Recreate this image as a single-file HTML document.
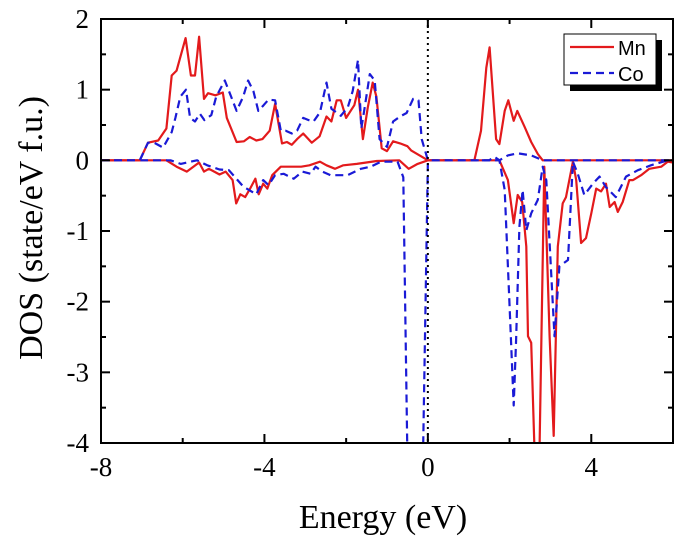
<!DOCTYPE html>
<html><head><meta charset="utf-8"><style>
html,body{margin:0;padding:0;background:#fff;}
svg{display:block;font-family:"Liberation Serif",serif;}
</style></head><body>
<svg id="chart" width="688" height="538" viewBox="0 0 688 538" xmlns="http://www.w3.org/2000/svg">
<defs><clipPath id="clip"><rect x="101" y="19" width="572" height="424"/></clipPath></defs>
<g id="series" clip-path="url(#clip)"></g>
<g id="axes"></g>
<text x="383" y="528" font-size="34" text-anchor="middle">Energy (eV)</text>
<text transform="translate(42,228) rotate(-90)" font-size="34" text-anchor="middle">DOS (state/eV f.u.)</text>
<g>
<rect x="570" y="40" width="92" height="51" fill="#000"/>
<rect x="564" y="34" width="92" height="51" fill="#fff" stroke="#000" stroke-width="1"/>
<line x1="570" y1="47" x2="614" y2="47" stroke="#e31a1c" stroke-width="2.2"/>
<text x="618" y="55" font-family="Liberation Sans,sans-serif" font-size="20">Mn</text>
<line x1="570" y1="73" x2="614" y2="73" stroke="#1a1ad6" stroke-width="2.2" stroke-dasharray="8,5"/>
<text x="618" y="81" font-family="Liberation Sans,sans-serif" font-size="20">Co</text>
</g>
</svg>
<script>
const xTicks=[-8,-4,0,4];
const yTicks=[2,1,0,-1,-2,-3,-4];
const mnUpE=[-8,-7.05,-6.85,-6.6,-6.4,-6.27,-6.15,-5.93,-5.8,-5.7,-5.6,-5.48,-5.38,-5.2,-5.02,-4.92,-4.68,-4.5,-4.36,-4.2,-4.05,-3.87,-3.74,-3.57,-3.45,-3.33,-3.2,-3.05,-2.84,-2.65,-2.48,-2.36,-2.23,-2.13,-2.0,-1.8,-1.71,-1.59,-1.47,-1.35,-1.26,-1.13,-1.0,-0.85,-0.68,-0.5,-0.41,0,1.14,1.3,1.43,1.51,1.67,1.75,1.88,1.97,2.1,2.19,2.37,2.53,2.69,2.81,6];
const mnUpV=[0,0,0.25,0.28,0.45,1.2,1.27,1.73,1.2,1.2,1.75,0.87,0.95,0.92,0.96,0.6,0.26,0.27,0.33,0.28,0.3,0.42,0.8,0.24,0.26,0.22,0.3,0.38,0.25,0.34,0.62,0.55,0.85,0.85,0.6,0.78,1.0,0.3,0.75,1.1,0.9,0.17,0.13,0.27,0.24,0.2,0.14,0,0,0.42,1.31,1.6,0.3,0.23,0.7,0.85,0.56,0.7,0.47,0.26,0.09,0,0];
const coUpE=[-8,-7.05,-6.85,-6.7,-6.48,-6.27,-6.18,-6.06,-5.92,-5.82,-5.7,-5.58,-5.47,-5.3,-5.18,-4.97,-4.8,-4.68,-4.52,-4.4,-4.27,-4.15,-4.02,-3.9,-3.74,-3.6,-3.48,-3.33,-3.2,-3.05,-2.92,-2.8,-2.64,-2.48,-2.36,-2.13,-1.96,-1.84,-1.71,-1.63,-1.55,-1.42,-1.3,-1.18,-1.0,-0.85,-0.68,-0.52,-0.36,-0.23,-0.15,0,1.5,1.63,1.75,1.96,2.2,2.53,2.81,6];
const coUpV=[0,0,0.25,0.25,0.18,0.4,0.6,0.9,1.0,0.6,0.55,0.66,0.57,0.64,0.9,1.13,0.88,0.7,0.9,1.13,0.98,0.7,0.78,0.86,0.85,0.42,0.42,0.38,0.42,0.6,0.57,0.55,0.68,1.1,0.73,0.63,0.75,0.98,1.42,0.45,0.73,1.22,1.13,0.3,0.19,0.55,0.62,0.67,0.87,0.85,0.3,0,0,0.05,0,0.07,0.1,0.07,0,0];
const mnDnE=[-8,-6.4,-6.15,-5.9,-5.6,-5.48,-5.36,-5.23,-5.1,-4.95,-4.78,-4.69,-4.59,-4.47,-4.35,-4.22,-4.14,-4.03,-3.93,-3.81,-3.6,-3.1,-2.9,-2.64,-2.48,-2.27,-2.07,-1.74,-1.25,-0.7,-0.47,-0.25,0,1.75,1.96,2.1,2.2,2.31,2.41,2.45,2.53,2.61,2.73,2.85,2.98,3.08,3.18,3.3,3.38,3.55,3.63,3.75,3.87,4.0,4.12,4.24,4.36,4.45,4.57,4.65,4.77,4.93,5.02,5.22,5.42,5.71,5.87,6];
const mnDnV=[0,0,-0.09,-0.16,-0.03,-0.16,-0.12,-0.16,-0.2,-0.16,-0.28,-0.61,-0.48,-0.52,-0.4,-0.26,-0.48,-0.33,-0.4,-0.21,-0.09,-0.09,-0.07,-0.02,-0.07,-0.12,-0.07,-0.05,-0.01,0,-0.12,-0.05,0,0,-0.28,-0.89,-0.49,-0.59,-1.22,-2.49,-2.58,-4.1,-4.2,-0.09,-2.49,-3.9,-1.22,-0.61,-0.52,-0.02,-0.28,-1.17,-1.1,-0.75,-0.4,-0.44,-0.33,-0.66,-0.59,-0.73,-0.59,-0.28,-0.28,-0.21,-0.12,-0.09,-0.02,-0.03];
const coDnE=[-8,-6.3,-6.05,-5.65,-5.4,-5.1,-4.87,-4.52,-4.2,-4.03,-3.9,-3.74,-3.53,-3.28,-3.07,-2.87,-2.75,-2.58,-2.38,-1.97,-1.64,-1.4,-1.15,-0.74,-0.6,-0.5,-0.42,-0.12,0,1.75,1.88,2.0,2.1,2.16,2.24,2.32,2.41,2.53,2.69,2.81,2.9,3.02,3.1,3.22,3.43,3.55,3.67,3.83,4.04,4.2,4.36,4.6,4.85,5.14,5.46,5.87,6];
const coDnV=[0,0,-0.05,0,-0.07,-0.13,-0.14,-0.37,-0.48,-0.28,-0.35,-0.21,-0.19,-0.26,-0.16,-0.19,-0.09,-0.16,-0.21,-0.21,-0.12,-0.09,-0.02,-0.02,-0.24,-4.2,-4.2,-4.2,0,0,-0.42,-2.07,-3.47,-2.54,-0.94,-0.42,-0.99,-0.75,-0.56,-0.09,-0.28,-1.6,-2.49,-1.5,-1.41,-0.02,-0.19,-0.49,-0.33,-0.23,-0.38,-0.52,-0.23,-0.14,-0.07,0,0];

const X0=101,X1=673,Y0=19,Y1=443;
function sx(e){return X0+(e+8)/14*(X1-X0);}
function sy(v){return Y0+(2-v)/6*(Y1-Y0);}
const NS='http://www.w3.org/2000/svg';
function mk(tag,attrs,parent){const el=document.createElementNS(NS,tag);for(const k in attrs)el.setAttribute(k,attrs[k]);parent.appendChild(el);return el;}
const ser=document.getElementById('series');
const axes=document.getElementById('axes');
function line(E,V,color,dash,name){
  const d=E.map((e,i)=>(i?'L':'M')+sx(e).toFixed(1)+','+sy(V[i]).toFixed(1)).join('');
  const p=mk('path',{d:d,fill:'none',stroke:color,'stroke-width':2.2,'stroke-linejoin':'round'},ser);
  if(dash)p.setAttribute('stroke-dasharray',dash);
  
  
}
line(mnDnE,mnDnV,'#e31a1c',null,'mn-spin-down-line');
line(coDnE,coDnV,'#1a1ad6','8,5','co-spin-down-line');
line(mnUpE,mnUpV,'#e31a1c',null,'mn-spin-up-line');
line(coUpE,coUpV,'#1a1ad6','8,5','co-spin-up-line');
const fermi=mk('line',{x1:sx(0),x2:sx(0),y1:Y0,y2:Y1,stroke:'#000','stroke-width':2,'stroke-dasharray':'2,4'},axes);


const frame=mk('rect',{x:X0,y:Y0,width:X1-X0,height:Y1-Y0,fill:'none',stroke:'#000','stroke-width':2},axes);


for(let e=-8;e<=6;e+=2){
  const big=(e%4===0);const L=big?9:5;
  mk('line',{x1:sx(e),x2:sx(e),y1:Y1,y2:Y1-L,stroke:'#000','stroke-width':2},axes);
  mk('line',{x1:sx(e),x2:sx(e),y1:Y0,y2:Y0+L,stroke:'#000','stroke-width':2},axes);
}
for(let v=-4;v<=2;v+=0.5){
  const big=Number.isInteger(v);const L=big?9:5;
  mk('line',{x1:X0,x2:X0+L,y1:sy(v),y2:sy(v),stroke:'#000','stroke-width':2},axes);
  mk('line',{x1:X1,x2:X1-L,y1:sy(v),y2:sy(v),stroke:'#000','stroke-width':2},axes);
}
xTicks.forEach(t=>{
  const tx=mk('text',{x:sx(t),y:Y1+33,'font-size':27,'text-anchor':'middle'},axes);
  tx.textContent=String(t);
  
  
});
yTicks.forEach(t=>{
  const tx=mk('text',{x:X0-12,y:sy(t)+9,'font-size':27,'text-anchor':'end'},axes);
  tx.textContent=String(t);
  
  
});
</script>
</body></html>
